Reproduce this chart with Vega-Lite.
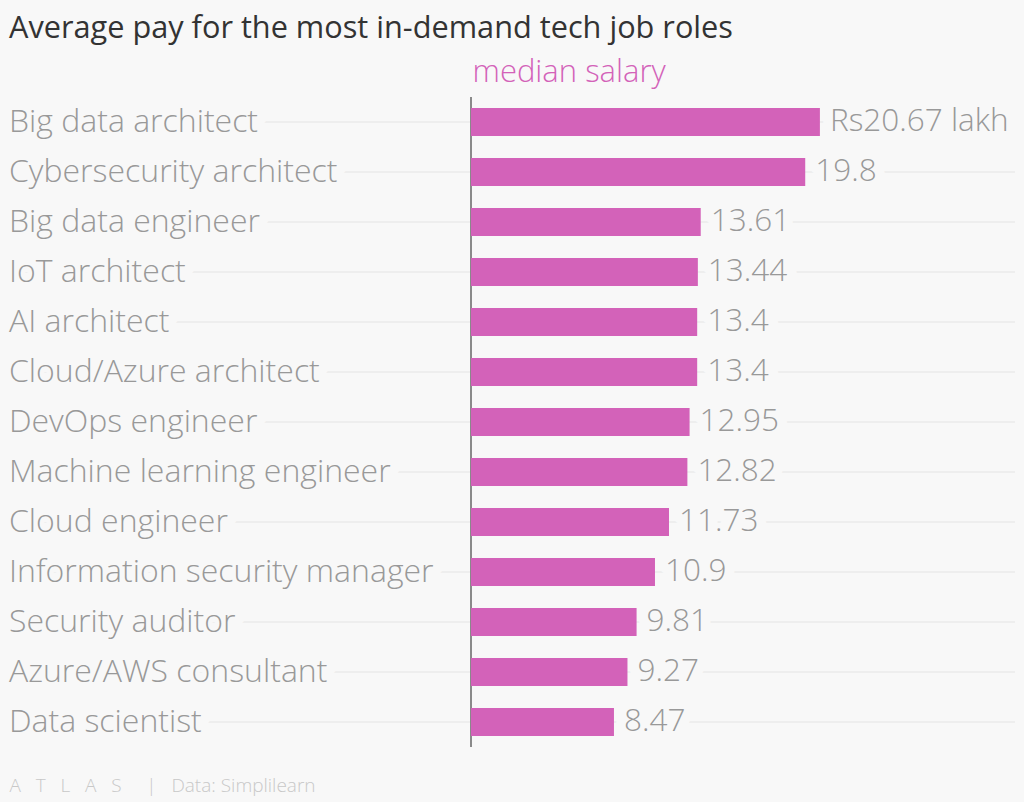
{
  "$schema": "https://vega.github.io/schema/vega-lite/v6.json",
  "width": 1024,
  "height": 650,
  "autosize": "none",
  "padding": {"left": 0, "top": 97, "right": 0, "bottom": 55},
  "background": "#f8f8f8",
  "title": {
    "text": "Average pay for the most in-demand tech job roles",
    "anchor": "start",
    "frame": "group",
    "dx": 9,
    "dy": -7,
    "font": "Open Sans",
    "fontSize": 30.7,
    "fontWeight": 400,
    "color": "#333333"
  },
  "config": {
    "view": {"stroke": null},
    "axisX": {
      "orient": "top", "labels": false, "ticks": false, "domain": false, "grid": false,
      "titleX": 472, "titleY": -16, "titleAlign": "left", "titleAnchor": null, "titleBaseline": "alphabetic",
      "titleFont": "Open Sans", "titleFontSize": 31, "titleFontWeight": 300, "titleColor": "#d362b9"
    },
    "axisY": {
      "labels": false, "ticks": false, "domain": false, "grid": false,
      "titleAngle": 0, "titleX": 9, "titleY": 694, "titleAlign": "left", "titleBaseline": "alphabetic",
      "titleFont": "Open Sans", "titleFontSize": 19, "titleFontWeight": 300, "titleColor": "#c8c8c8"
    }
  },
  "data": {
    "values": [
      {"role": "Big data architect", "salary": 20.67, "label": "Rs20.67 lakh"},
      {"role": "Cybersecurity architect", "salary": 19.8, "label": "19.8"},
      {"role": "Big data engineer", "salary": 13.61, "label": "13.61"},
      {"role": "IoT architect", "salary": 13.44, "label": "13.44"},
      {"role": "AI architect", "salary": 13.4, "label": "13.4"},
      {"role": "Cloud/Azure architect", "salary": 13.4, "label": "13.4"},
      {"role": "DevOps engineer", "salary": 12.95, "label": "12.95"},
      {"role": "Machine learning engineer", "salary": 12.82, "label": "12.82"},
      {"role": "Cloud engineer", "salary": 11.73, "label": "11.73"},
      {"role": "Information security manager", "salary": 10.9, "label": "10.9"},
      {"role": "Security auditor", "salary": 9.81, "label": "9.81"},
      {"role": "Azure/AWS consultant", "salary": 9.27, "label": "9.27"},
      {"role": "Data scientist", "salary": 8.47, "label": "8.47"}
    ]
  },
  "layer": [
    {
      "mark": {"type": "rule", "color": "#e4e4e4", "strokeWidth": 1},
      "encoding": {
        "y": {"field": "role", "type": "nominal", "sort": null, "title": "A\u00a0\u00a0\u00a0T\u00a0\u00a0\u00a0L\u00a0\u00a0\u00a0A\u00a0\u00a0\u00a0S\u00a0\u00a0\u00a0\u00a0\u00a0|\u00a0\u00a0\u00a0Data: Simplilearn", "scale": {"paddingInner": 0.44, "paddingOuter": 0.22}},
        "x": {"datum": -27.37, "type": "quantitative", "title": "median salary", "scale": {"domain": [-27.9, 32.76], "nice": false, "zero": false}},
        "x2": {"datum": 32.23}
      }
    },
    {
      "mark": {"type": "rule", "color": "#8a8a8a", "strokeWidth": 1},
      "encoding": {
        "x": {"datum": 0, "type": "quantitative", "title": "median salary"}
      }
    },
    {
      "mark": {"type": "text", "align": "left", "baseline": "middle", "font": "Open Sans", "fontSize": 32, "fontWeight": 300, "stroke": "#f8f8f8", "strokeWidth": 20, "strokeJoin": "round", "fill": "#f8f8f8"},
      "encoding": {
        "y": {"field": "role", "type": "nominal", "sort": null, "title": "A\u00a0\u00a0\u00a0T\u00a0\u00a0\u00a0L\u00a0\u00a0\u00a0A\u00a0\u00a0\u00a0S\u00a0\u00a0\u00a0\u00a0\u00a0|\u00a0\u00a0\u00a0Data: Simplilearn"},
        "x": {"datum": -27.37, "type": "quantitative", "title": "median salary"},
        "text": {"field": "role"}
      }
    },
    {
      "mark": {"type": "text", "align": "left", "baseline": "middle", "dx": 10, "font": "Open Sans", "fontSize": 31.5, "fontWeight": 300, "stroke": "#f8f8f8", "strokeWidth": 20, "strokeJoin": "round", "fill": "#f8f8f8"},
      "encoding": {
        "y": {"field": "role", "type": "nominal", "sort": null, "title": "A\u00a0\u00a0\u00a0T\u00a0\u00a0\u00a0L\u00a0\u00a0\u00a0A\u00a0\u00a0\u00a0S\u00a0\u00a0\u00a0\u00a0\u00a0|\u00a0\u00a0\u00a0Data: Simplilearn"},
        "x": {"field": "salary", "type": "quantitative", "title": "median salary"},
        "text": {"field": "label"}
      }
    },
    {
      "mark": {"type": "bar", "color": "#d362b9"},
      "encoding": {
        "y": {"field": "role", "type": "nominal", "sort": null, "title": "A\u00a0\u00a0\u00a0T\u00a0\u00a0\u00a0L\u00a0\u00a0\u00a0A\u00a0\u00a0\u00a0S\u00a0\u00a0\u00a0\u00a0\u00a0|\u00a0\u00a0\u00a0Data: Simplilearn"},
        "x": {"field": "salary", "type": "quantitative", "title": "median salary"}
      }
    },
    {
      "mark": {"type": "text", "align": "left", "baseline": "middle", "font": "Open Sans", "fontSize": 32, "fontWeight": 300, "color": "#999999"},
      "encoding": {
        "y": {"field": "role", "type": "nominal", "sort": null, "title": "A\u00a0\u00a0\u00a0T\u00a0\u00a0\u00a0L\u00a0\u00a0\u00a0A\u00a0\u00a0\u00a0S\u00a0\u00a0\u00a0\u00a0\u00a0|\u00a0\u00a0\u00a0Data: Simplilearn"},
        "x": {"datum": -27.37, "type": "quantitative", "title": "median salary"},
        "text": {"field": "role"}
      }
    },
    {
      "mark": {"type": "text", "align": "left", "baseline": "middle", "dx": 10, "font": "Open Sans", "fontSize": 31.5, "fontWeight": 300, "color": "#999999"},
      "encoding": {
        "y": {"field": "role", "type": "nominal", "sort": null, "title": "A\u00a0\u00a0\u00a0T\u00a0\u00a0\u00a0L\u00a0\u00a0\u00a0A\u00a0\u00a0\u00a0S\u00a0\u00a0\u00a0\u00a0\u00a0|\u00a0\u00a0\u00a0Data: Simplilearn"},
        "x": {"field": "salary", "type": "quantitative", "title": "median salary"},
        "text": {"field": "label"}
      }
    }
  ]
}
